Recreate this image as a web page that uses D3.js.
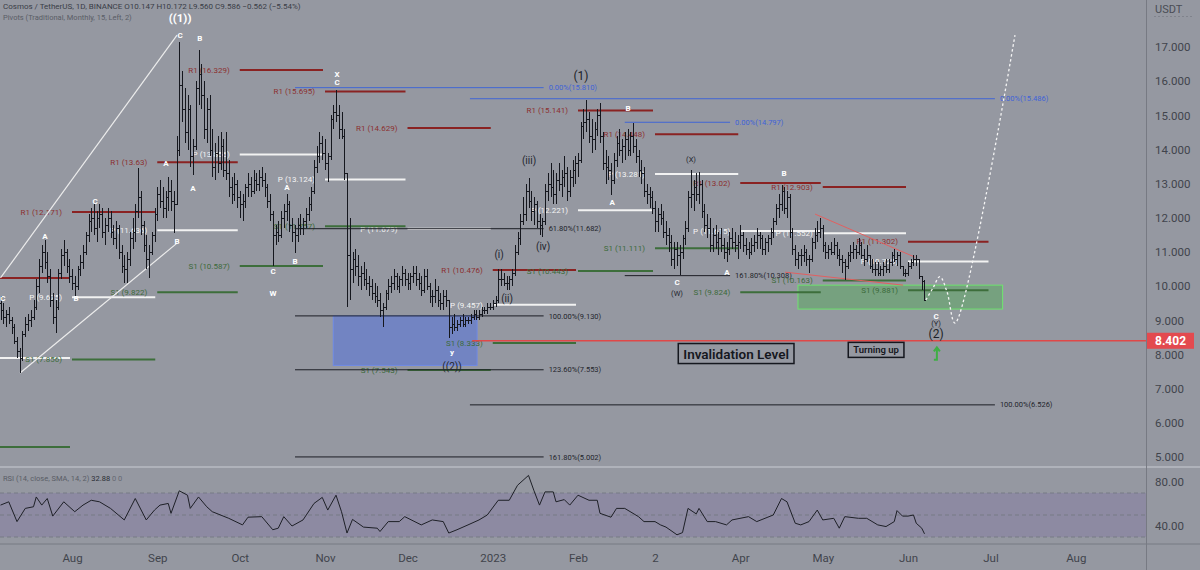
<!DOCTYPE html>
<html><head><meta charset="utf-8">
<script src="https://cdn.jsdelivr.net/npm/d3@7"></script>
<style>
body{margin:0;background:#9598a1;overflow:hidden}
svg{display:block}
text{font-family:Roboto,"Liberation Sans",sans-serif}
</style></head><body>
<svg id="c" width="1200" height="570"></svg>
<script>
// ---------------- DATA ----------------
const startDate = "2022-07-06";   // day index 0
const firstOpen = 9.5;
const highs = [9.7,9.5,9.3,9.4,9.1,8.9,8.5,8.2,8.7,9.1,9.2,9.3,9.6,10.2,10.8,11.2,11.35,11.0,10.5,9.8,9.6,10.5,11.1,11.35,11.1,10.8,10.5,10.3,
10.6,10.9,11.2,11.6,12.1,12.3,12.4,12.2,12.4,12.3,12.0,12.3,12.2,11.8,11.9,11.8,11.2,10.9,11.0,11.6,12.0,12.4,13.45,12.8,11.9,11.5,11.2,11.6,12.3,12.9,13.1,12.9,12.8,13.2,13.1,12.8,
14.4,17.15,16.3,15.8,15.6,15.3,14.3,16.0,16.9,16.5,16.0,15.5,15.6,14.6,14.2,14.4,14.5,14.3,14.5,13.7,13.2,13.3,13.1,12.8,12.7,13.0,13.3,13.2,13.4,13.3,13.4,13.5,13.3,13.0,12.7,
12.2,11.8,11.9,12.2,12.4,12.7,12.5,12.0,11.8,12.0,12.1,12.0,12.3,12.6,12.9,13.7,14.1,14.5,14.4,14.3,13.9,15.0,15.3,15.74,15.3,15.1,14.6,13.3,
12.0,11.0,11.1,10.9,10.6,10.7,10.5,10.3,10.2,10.1,10.0,9.8,9.5,9.9,10.2,10.3,10.5,10.4,10.3,10.6,10.5,10.4,10.4,10.6,10.6,10.4,10.3,10.5,10.5,10.1,9.9,10.2,10.0,9.8,9.9,9.9,9.6,
9.1,9.2,9.0,9.1,9.2,9.1,9.1,9.2,9.3,9.3,9.3,9.4,9.4,9.5,9.5,9.6,9.7,10.5,10.5,10.4,10.3,10.3,10.5,11.2,11.6,12.1,12.6,13.0,13.16,12.8,12.6,12.5,12.1,12.0,13.0,13.3,13.6,13.4,13.3,13.6,13.4,13.8,13.5,13.4,13.7,13.8,13.9,14.8,15.2,
15.45,15.1,14.9,14.8,15.2,15.35,14.5,14.0,13.8,13.6,13.9,14.4,14.6,14.3,14.5,14.6,14.5,14.77,14.3,14.0,13.7,13.5,13.0,12.9,12.8,12.5,12.3,12.4,12.2,11.9,11.7,11.5,11.3,11.3,11.2,
11.5,11.9,12.8,13.4,13.1,13.3,13.35,13.1,12.4,12.1,12.0,11.7,11.8,11.6,11.7,11.4,11.3,11.6,11.7,11.6,11.5,11.8,11.6,11.4,11.3,11.4,11.5,11.7,11.6,11.5,11.4,11.5,11.7,12.0,12.4,12.7,12.96,12.9,12.8,12.7,
11.7,11.2,11.0,11.1,11.2,11.1,10.9,11.4,11.7,11.9,12.0,11.8,11.3,11.2,11.3,11.4,11.3,11.1,10.9,10.8,11.0,11.2,11.3,11.2,11.4,11.3,11.1,11.2,10.9,10.8,10.7,10.7,10.6,10.7,10.8,10.8,11.0,11.1,11.0,11.0,10.6,10.5,10.7,10.8,10.9,10.9,10.8,10.3,10.172];
const lows = [9.0,8.9,8.8,8.9,8.6,8.3,7.9,7.45,7.8,8.5,8.7,8.8,9.0,9.3,9.8,10.4,10.5,10.1,9.4,8.9,8.63,9.3,10.2,10.6,10.4,10.1,9.9,9.7,
9.9,10.3,10.5,10.9,11.3,11.6,11.5,11.3,11.7,11.4,11.2,11.6,11.4,11.2,11.1,10.8,10.4,10.1,10.1,10.6,11.1,11.3,12.0,11.5,11.0,10.5,10.24,10.9,11.3,11.9,12.3,12.0,12.0,12.2,12.2,11.55,
12.4,13.8,14.8,14.2,14.0,13.5,13.25,14.0,15.3,15.2,14.3,14.2,13.8,13.2,13.1,13.3,13.4,13.2,13.1,12.6,12.4,12.5,12.3,12.0,11.9,12.3,12.6,12.6,12.7,12.8,12.8,12.9,12.6,12.3,11.9,
10.6,11.2,11.3,11.4,11.7,11.9,11.6,11.3,10.97,11.3,11.5,11.5,11.7,11.9,12.2,12.7,13.3,13.6,13.7,13.4,13.05,13.7,14.6,14.8,14.3,14.3,13.1,9.4,
9.6,10.1,10.3,10.0,9.9,10.0,9.9,9.7,9.6,9.5,9.4,9.1,8.8,9.3,9.6,9.8,9.9,9.9,9.8,10.0,10.0,9.9,9.9,10.1,10.0,9.9,9.7,9.8,9.9,9.5,9.4,9.5,9.4,9.3,9.3,9.4,8.48,
8.6,8.7,8.7,8.8,8.8,8.8,8.9,8.9,9.0,9.0,9.0,9.1,9.2,9.2,9.3,9.3,9.4,9.5,10.0,10.0,9.9,9.9,10.0,10.3,10.9,11.2,11.8,11.9,12.3,11.9,11.8,11.7,11.5,11.44,11.8,12.5,12.6,12.4,12.4,12.8,12.6,12.9,12.5,12.6,12.9,13.0,13.2,13.6,14.3,
14.5,14.2,13.9,14.0,14.4,14.2,13.4,13.0,13.1,12.67,13.0,13.5,13.8,13.6,13.7,13.8,13.8,13.9,13.6,13.2,13.0,12.6,12.4,12.3,12.1,11.6,11.6,11.8,11.4,11.2,11.0,10.6,10.5,10.6,10.33,
10.8,11.2,11.6,12.3,12.2,12.5,12.4,12.0,11.6,11.4,11.0,11.0,11.1,10.9,11.0,10.8,10.7,10.9,11.1,11.0,10.8,11.1,11.0,10.9,10.8,10.9,11.0,11.1,11.1,10.9,10.9,11.0,11.2,11.4,11.8,12.0,12.2,12.1,12.0,11.4,
10.9,10.6,10.5,10.6,10.7,10.6,10.4,10.7,11.1,11.3,11.4,11.0,10.8,10.8,10.9,10.9,10.8,10.6,10.4,10.18,10.5,10.7,10.8,10.8,10.9,10.8,10.6,10.7,10.5,10.4,10.3,10.3,10.3,10.3,10.4,10.4,10.6,10.7,10.6,10.5,10.3,10.27,10.3,10.5,10.6,10.6,10.2,9.9,9.56];
const closes = [9.3,9.1,9.2,9.0,8.8,8.4,8.1,7.9,8.6,8.9,9.0,9.1,9.4,10.0,10.6,11.0,10.7,10.3,9.6,9.1,9.4,10.4,10.9,11.0,10.6,10.3,10.1,10.0,
10.5,10.7,11.0,11.5,11.9,12.0,11.7,12.0,12.1,11.6,11.8,12.0,11.6,11.4,11.7,11.0,10.6,10.5,10.8,11.4,11.6,12.2,12.6,11.8,11.2,10.8,11.0,11.5,12.1,12.7,12.5,12.3,12.6,12.8,12.5,12.4,
14.0,15.9,15.2,14.5,15.2,13.8,14.1,15.8,16.2,15.6,14.6,15.2,14.0,13.5,13.9,13.6,14.1,13.4,13.3,12.9,12.7,13.0,12.6,12.4,12.5,12.9,13.0,12.8,13.1,13.0,13.2,13.1,12.9,12.5,12.1,
11.5,11.6,11.5,12.0,12.2,12.4,11.8,11.6,11.5,11.8,11.7,11.9,12.1,12.4,12.8,13.5,13.8,14.2,13.9,13.6,13.8,14.9,15.1,15.0,14.6,14.4,13.3,10.9,
10.5,10.8,10.6,10.3,10.4,10.2,10.1,10.0,9.8,9.7,9.6,9.3,9.4,9.8,10.0,10.1,10.3,10.0,10.2,10.4,10.2,10.1,10.3,10.4,10.2,10.1,9.9,10.3,10.0,9.7,9.7,9.9,9.6,9.5,9.7,9.6,8.8,
8.9,8.8,8.9,9.0,8.9,9.0,9.0,9.1,9.2,9.1,9.2,9.3,9.3,9.4,9.4,9.5,9.6,10.2,10.2,10.1,10.1,10.2,10.4,11.0,11.4,11.9,12.1,12.8,12.5,12.2,12.4,11.9,11.8,11.9,12.8,13.0,12.9,12.7,13.1,13.0,13.2,13.3,12.8,13.2,13.4,13.6,13.7,14.7,14.8,
14.9,14.4,14.3,14.6,15.0,14.4,13.6,13.5,13.4,13.1,13.7,14.2,14.0,14.1,14.3,14.0,14.4,14.1,13.8,13.4,13.3,12.8,12.7,12.6,12.3,11.9,12.1,12.0,11.6,11.5,11.3,10.8,11.1,10.9,11.0,
11.4,11.7,12.6,12.7,12.9,12.7,13.0,12.2,11.8,11.7,11.2,11.5,11.3,11.4,11.2,11.0,11.1,11.4,11.3,11.2,11.3,11.5,11.2,11.1,11.0,11.2,11.3,11.5,11.4,11.1,11.3,11.4,11.6,11.9,12.3,12.4,12.8,12.3,12.6,11.6,
11.1,10.8,10.9,10.9,11.0,10.8,10.8,11.3,11.5,11.6,11.7,11.2,11.0,11.1,11.0,11.2,10.9,10.8,10.7,10.6,10.9,11.0,11.1,11.0,11.2,10.9,10.8,10.9,10.6,10.5,10.5,10.4,10.5,10.6,10.5,10.7,10.9,10.8,10.9,10.6,10.4,10.4,10.6,10.7,10.8,10.8,10.3,10.147,9.586];

// RSI (14): day index -> value
const rsiDay = [0,3,6,9,12,13,15,17,19,23,27,30,33,36,40,45,49,53,56,58,61,62,65,68,69,72,75,77,83,88,90,95,99,101,103,106,110,114,117,119,122,124,126,128,132,137,138,141,145,147,153,157,161,163,166,170,174,177,181,185,188,192,194,196,198,201,202,205,207,210,214,217,218,222,224,227,232,234,238,240,242,246,248,250,253,254,257,260,264,266,272,275,281,284,286,289,291,294,297,299,303,305,307,312,315,319,322,325,326,328,330,332,333,335,336];
const rsiVal = [59,62,44,56,57.5,66.4,59,65,49,62,53,59,63.4,62,56,45.5,65,45.5,54.5,59,60.5,51.5,72,68,56,66.4,57.5,53,47,41,48,48.5,36.6,38,48.5,40,45.5,60.5,66,54.5,68,53,33.6,46,39,38,35,44,44,48.5,41,45.5,44,33.6,36.6,41,45.5,50,63.4,63.4,77,86,72,59,71,71,62,64,59,68,63.4,63.4,51.5,48,56,56,48.5,44,44,41,39,32,34,56,51,56,44,44,41,45.5,48.5,44,50,65,62,42.5,41,44,54.5,45.5,47,38,48.5,47,47,41,39.5,44,54,49,49,50,42.5,38,32.88];

// Monthly traditional pivots
const pivotMonths = ["2022-07-01","2022-08-01","2022-09-01","2022-10-01","2022-11-01","2022-12-01","2023-01-01","2023-02-01","2023-03-01","2023-04-01","2023-05-01","2023-06-01","2023-07-01"];
const pivotR1 = [10.24,12.171,13.63,16.329,15.695,14.629,10.476,15.141,14.448,13.02,12.903,11.302];
const pivotP  = [7.9,9.675,11.636,13.856,13.124,11.679,9.457,12.221,13.281,11.615,11.552,10.725];
const pivotS1 = [5.29,7.856,9.822,10.587,11.757,7.543,8.333,10.443,11.111,9.824,10.163,9.881];
const pivotLabelled = [false,true,true,true,true,true,true,true,true,true,true,true];

// Fibonacci levels (start day, end day, price, label, kind)
const fibStart = [107.1,107.1,107.1,107.1,107.1,170.7,170.7,227,227];
const fibEnd   = [197.5,197.5,197.5,197.5,197.5,361.6,361.6,265.3,265.3];
const fibPrice = [15.810,11.682,9.130,7.553,5.002,15.486,6.526,14.797,10.308];
const fibLabel = ["0.00%(15.810)","61.80%(11.682)","100.00%(9.130)","123.60%(7.553)","161.80%(5.002)","0.00%(15.486)","100.00%(6.526)","0.00%(14.797)","161.80%(10.308)"];
const fibBlue  = [true,false,false,false,false,true,false,true,false];

const invalidation = 8.402, invalidationStart = 171.5;

// Wave labels
const waveText  = ["((1))","C","B","C","A","B","C","A","B","A","A","C","B","W","X","C","y","((2))","(i)","(ii)","(iii)","(iv)","(1)","A","B","C","(W)","(X)","A","B","C","(Y)","(2)"];
const waveDay   = [65.3,65.3,72.5,0.9,16.2,27.5,34.4,60.2,64.2,70,104.2,99.1,107.1,99.1,122.4,122.4,164.2,164.2,181.3,184.2,192.2,197.3,211.1,222.4,228.2,246,246,251.1,264.2,284.9,340.2,340.2,340.2];
const wavePrice = [17.86,17.36,17.27,9.65,11.46,9.65,12.5,13.6,11.33,12.88,12.9,10.45,10.72,9.8,16.2,15.96,8.06,7.64,10.92,9.63,13.68,11.16,16.17,12.45,15.22,10.13,9.78,13.7,10.4,13.3,9.12,8.9,8.6];
const waveStyle = ["W","w","w","w","w","w","w","w","w","w","w","w","w","w","w","w","w","k","k","k","k","k","K","w","w","w","ks","ks","w","w","w","ks","K"];

// Other drawings (day index, price)
const channelUpper = [[0,10.24],[64.2,17.35]];
const channelLower = [[7.1,7.46],[64.2,11.26]];
const wedgeUpper = [[296.2,12.11],[332.5,10.85]];
const wedgeLower = [[285.3,10.41],[328.2,10.03]];
const projection = [[336.5,9.6],[339.1,9.95],[341.6,10.28],[344.2,9.83],[347.1,8.92],[368.9,17.35]];
const blueBox  = {d0:121, d1:173.3, p0:9.13, p1:7.68};
const greenBox = {d0:290, d1:364.4, p0:10.03, p1:9.33};
const noteText = ["Invalidation Level","Turning up"];
const noteDay = [267.5,318.4];
const notePrice = [8.02,8.13];

const priceTicks = [5,6,7,8,9,10,11,12,13,14,15,16,17];
const rsiTicks = [80,40];
const timeTickDates = ["2022-08-01","2022-09-01","2022-10-01","2022-11-01","2022-12-01","2023-01-01","2023-02-01","2023-03-01","2023-04-01","2023-05-01","2023-06-01","2023-07-01","2023-08-01"];
const timeTickLabels = ["Aug","Sep","Oct","Nov","Dec","2023","Feb","2","Apr","May","Jun","Jul","Aug"];

// ---------------- DRAW ----------------
const svg = d3.select("#c");
const W = 1200, H = 570, AX = 1146, PANE_B = 467, RSI_B = 544;
const parse = s => new Date(s + "T00:00:00Z");
const t0 = parse(startDate);
const dateOf = i => new Date(t0.getTime() + i * 864e5);
const x = d3.scaleUtc().domain([parse("2022-08-01"), parse("2023-06-01")]).range([72, 908]);
const X = d => x(dateOf(d));
const y = d3.scaleLinear().domain([5, 17]).range([457, 47]);
const yR = d3.scaleLinear().domain([30, 70]).range([537, 493]);

svg.append("rect").attr("width", W).attr("height", H).attr("fill", "#9598a1");
const defs = svg.append("defs");
defs.append("clipPath").attr("id", "pc").append("rect").attr("x", 0).attr("y", 0).attr("width", AX).attr("height", PANE_B);
defs.append("clipPath").attr("id", "rc").append("rect").attr("x", 0).attr("y", PANE_B).attr("width", AX).attr("height", RSI_B - PANE_B);

const P = svg.append("g").attr("clip-path", "url(#pc)");

// boxes
function box(b, fill, op, stroke) {
  P.append("rect").attr("x", X(b.d0)).attr("y", y(b.p0)).attr("width", X(b.d1) - X(b.d0)).attr("height", y(b.p1) - y(b.p0))
    .attr("fill", fill).attr("fill-opacity", op).attr("stroke", stroke).attr("stroke-width", 1);
}
box(blueBox, "#5b77d9", 0.6, "#6f8ae6");
box(greenBox, "#4caf50", 0.42, "#6ee46e");

// pivots
const pv = P.append("g");
const pivotSets = [
  {vals: pivotR1, name: "R1", line: "#8a2222", txt: "#8c3030"},
  {vals: pivotP, name: "P", line: "#f2f2f2", txt: "#f4f4f4"},
  {vals: pivotS1, name: "S1", line: "#3d6e3b", txt: "#3c6a3a"}
];
pivotSets.forEach(s => {
  s.vals.forEach((v, i) => {
    const xa = x(parse(pivotMonths[i])), xb = x(parse(pivotMonths[i + 1])) - 2;
    pv.append("line").attr("x1", xa).attr("x2", xb).attr("y1", y(v)).attr("y2", y(v))
      .attr("stroke", s.line).attr("stroke-width", 2);
    if (pivotLabelled[i]) {
      pv.append("text").attr("x", xa - 10).attr("y", y(v)).attr("dy", "0.35em").attr("text-anchor", "end")
        .attr("font-size", 8).attr("fill", s.txt).text(`${s.name} (${v})`);
    }
  });
});

// fib lines
fibPrice.forEach((p, i) => {
  const c = fibBlue[i] ? "#4166d5" : "#1c1e25";
  P.append("line").attr("x1", X(fibStart[i])).attr("x2", X(fibEnd[i])).attr("y1", y(p)).attr("y2", y(p))
    .attr("stroke", c).attr("stroke-width", 1);
  P.append("text").attr("x", X(fibEnd[i]) + 5).attr("y", y(p)).attr("dy", "0.35em").attr("font-size", 7.5)
    .attr("fill", fibBlue[i] ? "#3f63d8" : "#23252c").text(fibLabel[i]);
});

// invalidation line
P.append("line").attr("x1", X(invalidationStart)).attr("x2", AX).attr("y1", y(invalidation)).attr("y2", y(invalidation))
  .attr("stroke", "#e04848").attr("stroke-width", 1.5);

// channel & wedge
const seg = d3.line().x(d => X(d[0])).y(d => y(d[1]));
P.append("path").attr("d", seg(channelUpper)).attr("stroke", "#ececec").attr("stroke-width", 1.2).attr("fill", "none");
P.append("path").attr("d", seg(channelLower)).attr("stroke", "#ececec").attr("stroke-width", 1.2).attr("fill", "none");
P.append("path").attr("d", seg(wedgeUpper)).attr("stroke", "#e26060").attr("stroke-width", 1).attr("fill", "none");
P.append("path").attr("d", seg(wedgeLower)).attr("stroke", "#e26060").attr("stroke-width", 1).attr("fill", "none");

// OHLC bars
const bars = P.append("g").attr("stroke", "#15171e").attr("shape-rendering", "crispEdges");
closes.forEach((c, i) => {
  const o = i === 0 ? firstOpen : closes[i - 1];
  const hx = Math.round(X(i)) + 0.5;
  const hi = Math.max(highs[i], o, c), lo = Math.min(lows[i], o, c);
  bars.append("line").attr("x1", hx).attr("x2", hx).attr("y1", y(hi)).attr("y2", y(lo));
  bars.append("line").attr("x1", hx - 1.5).attr("x2", hx).attr("y1", Math.round(y(o)) + 0.5).attr("y2", Math.round(y(o)) + 0.5);
  bars.append("line").attr("x1", hx).attr("x2", hx + 1.5).attr("y1", Math.round(y(c)) + 0.5).attr("y2", Math.round(y(c)) + 0.5);
});

// projection path
P.append("path").attr("d", d3.line().x(d => X(d[0])).y(d => y(d[1])).curve(d3.curveCatmullRom.alpha(0.5))(projection))
  .attr("stroke", "#f4f4f4").attr("stroke-width", 1.3).attr("stroke-dasharray", "2.5,2.5").attr("fill", "none");

// wave labels
const styles = {
  W: {size: 11.5, fill: "#ffffff", weight: 700},
  w: {size: 8, fill: "#ffffff", weight: 700},
  k: {size: 10, fill: "#22252e", weight: 400},
  K: {size: 12, fill: "#1c1f27", weight: 400},
  ks: {size: 7.5, fill: "#22252e", weight: 400}
};
waveText.forEach((t, i) => {
  const s = styles[waveStyle[i]];
  P.append("text").attr("x", X(waveDay[i])).attr("y", y(wavePrice[i])).attr("dy", "0.35em").attr("text-anchor", "middle")
    .attr("font-size", s.size).attr("font-weight", s.weight).attr("fill", s.fill).text(t);
});

// note boxes
noteText.forEach((t, i) => {
  const big = i === 0;
  const tx = P.append("text").attr("x", X(noteDay[i])).attr("y", y(notePrice[i])).attr("dy", "0.35em").attr("text-anchor", "middle")
    .attr("font-size", big ? 13.5 : 9.5).attr("font-weight", 600).attr("fill", "#15171e").text(t);
  const bb = tx.node().getBBox();
  P.insert("rect", () => tx.node()).attr("x", bb.x - 5).attr("y", bb.y - 2).attr("width", bb.width + 10).attr("height", bb.height + 4)
    .attr("fill", "none").attr("stroke", "#15171e").attr("stroke-width", 1.5);
});

// green arrow
const ax0 = X(340.5), ay0 = y(8.02);
P.append("path").attr("d", `M${ax0 - 3},${ay0 + 6} H${ax0} V${ay0 - 6} M${ax0 - 3},${ay0 - 2.5} L${ax0},${ay0 - 6.5} L${ax0 + 3},${ay0 - 2.5}`)
  .attr("stroke", "#3fae45").attr("stroke-width", 2).attr("fill", "none");

// ---- RSI pane ----
const R = svg.append("g").attr("clip-path", "url(#rc)");
R.append("rect").attr("x", 0).attr("y", yR(70)).attr("width", AX).attr("height", yR(30) - yR(70)).attr("fill", "#8d8aa2");
[70, 50, 30].forEach(v => R.append("line").attr("x1", 0).attr("x2", AX).attr("y1", yR(v)).attr("y2", yR(v))
  .attr("stroke", "#777a85").attr("stroke-dasharray", "4,3").attr("stroke-width", 1));
R.append("path").attr("d", d3.line().x((d, i) => X(rsiDay[i])).y(d => yR(d))(rsiVal))
  .attr("stroke", "#1e2027").attr("stroke-width", 1).attr("fill", "none");

// separators
svg.append("line").attr("x1", 0).attr("x2", W).attr("y1", PANE_B).attr("y2", PANE_B).attr("stroke", "#c9ccd3").attr("stroke-width", 1);
svg.append("line").attr("x1", 0).attr("x2", W).attr("y1", RSI_B).attr("y2", RSI_B).attr("stroke", "#777a83").attr("stroke-width", 1);
svg.append("line").attr("x1", AX + 0.5).attr("x2", AX + 0.5).attr("y1", 0).attr("y2", H).attr("stroke", "#777a83").attr("stroke-width", 1);

// price axis
const pa = svg.append("g").attr("transform", `translate(${AX},0)`)
  .call(d3.axisRight(y).tickValues(priceTicks).tickFormat(d3.format(".3f")).tickSize(0).tickPadding(9));
pa.select(".domain").remove();
pa.selectAll("text").attr("font-size", 11.5).attr("fill", "#41444c").attr("font-family", "Roboto, sans-serif");
svg.append("text").attr("x", AX + 9).attr("y", 13).attr("font-size", 11).attr("fill", "#4a4d55").text("USDT");
svg.append("line").attr("x1", AX + 8).attr("x2", AX + 46).attr("y1", 16.5).attr("y2", 16.5)
  .attr("stroke", "#80838c").attr("stroke-dasharray", "2,2").attr("stroke-width", 1);

// invalidation price tag
const ty = y(invalidation);
svg.append("rect").attr("x", AX + 1).attr("y", ty - 8).attr("width", 47).attr("height", 16).attr("fill", "#e34a4f");
svg.append("text").attr("x", AX + 9).attr("y", ty).attr("dy", "0.36em").attr("font-size", 12).attr("font-weight", 700).attr("fill", "#ffffff").text(invalidation.toFixed(3));

// rsi axis
const ra = svg.append("g").attr("transform", `translate(${AX},0)`)
  .call(d3.axisRight(yR).tickValues(rsiTicks).tickFormat(d3.format(".2f")).tickSize(0).tickPadding(9));
ra.select(".domain").remove();
ra.selectAll("text").attr("font-size", 11.5).attr("fill", "#41444c").attr("font-family", "Roboto, sans-serif");

// time axis
const ta = svg.append("g").attr("transform", `translate(0,${RSI_B})`)
  .call(d3.axisBottom(x).tickValues(timeTickDates.map(parse)).tickFormat((d, i) => timeTickLabels[i]).tickSize(0).tickPadding(10));
ta.select(".domain").remove();
ta.selectAll("text").attr("font-size", 11.5).attr("fill", "#41444c").attr("font-family", "Roboto, sans-serif");

// headers
svg.append("text").attr("x", 3).attr("y", 9).attr("font-size", 8).attr("fill", "#3a3d47")
  .text("Cosmos / TetherUS, 1D, BINANCE  O10.147  H10.172  L9.560  C9.586  \u22120.562 (\u22125.54%)");
svg.append("text").attr("x", 3).attr("y", 20).attr("font-size", 7.5).attr("fill", "#5a5d66")
  .text("Pivots (Traditional, Monthly, 15, Left, 2)");
const rh = svg.append("text").attr("x", 3).attr("y", 481).attr("font-size", 7.5);
rh.append("tspan").attr("fill", "#5a5d66").text("RSI (14, close, SMA, 14, 2) ");
rh.append("tspan").attr("fill", "#2a2d35").text(" 32.88 ");
rh.append("tspan").attr("fill", "#666973").text(" 0  0");
</script>
</body></html>
